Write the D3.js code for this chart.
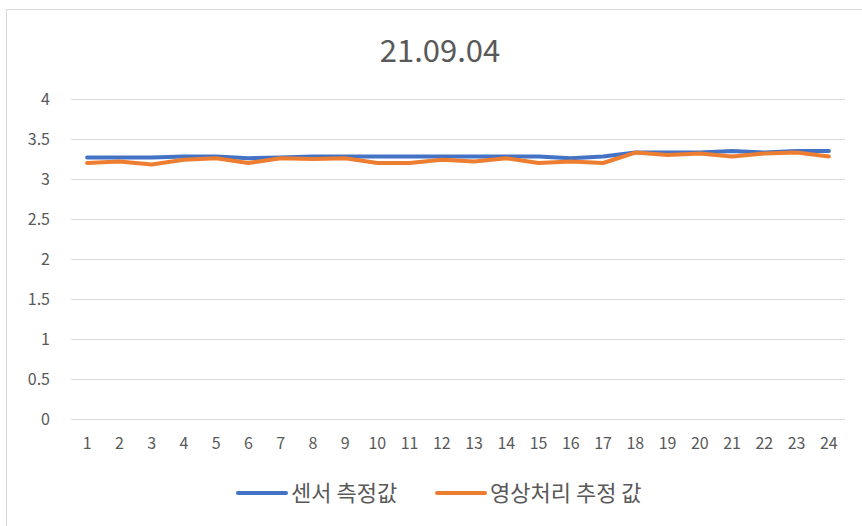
<!DOCTYPE html>
<html>
<head>
<meta charset="utf-8">
<script src="https://cdn.jsdelivr.net/npm/d3@7"></script>
<style>
  body { margin: 0; background: #fff; }
  svg { display: block; }
  text { font-family: "Noto Sans CJK KR", "Open Sans", sans-serif; fill: #595959; }
</style>
</head>
<body>
<svg id="chart" width="862" height="526"></svg>
<script>
// chart data
const categories = d3.range(1, 25).map(String);
const sensorValues = [3.27, 3.27, 3.27, 3.28, 3.28, 3.26, 3.27, 3.28, 3.28, 3.28, 3.28, 3.28, 3.28, 3.28, 3.28, 3.26, 3.28, 3.33, 3.33, 3.33, 3.35, 3.33, 3.35, 3.35];
const imageValues = [3.2, 3.22, 3.18, 3.24, 3.26, 3.2, 3.26, 3.25, 3.26, 3.2, 3.2, 3.24, 3.22, 3.26, 3.2, 3.22, 3.2, 3.33, 3.3, 3.32, 3.28, 3.32, 3.33, 3.28];
const yTicks = [0, 0.5, 1, 1.5, 2, 2.5, 3, 3.5, 4];
const seriesNames = ["센서 측정값", "영상처리 추정 값"];
const seriesColors = ["#4472C4", "#ED7D31"];
const title = "21.09.04";

const svg = d3.select('#chart');

// outer border like the excel chart area
svg.append('rect')
  .attr('x', 6.5).attr('y', 9.5)
  .attr('width', 860).attr('height', 520)
  .attr('fill', 'none')
  .attr('stroke', '#d9d9d9');

svg.append('text')
  .attr('x', 440).attr('y', 62)
  .attr('text-anchor', 'middle')
  .style('font-size', '31px')
  .text(title);

const x = d3.scaleBand().domain(categories).range([71, 845]);
const y = d3.scaleLinear().domain([0, 4]).range([419, 99]);

// gridlines
svg.append('g')
  .selectAll('line')
  .data(yTicks)
  .enter().append('line')
  .attr('x1', 71).attr('x2', 845)
  .attr('y1', d => Math.round(y(d)) + 0.5)
  .attr('y2', d => Math.round(y(d)) + 0.5)
  .attr('stroke', '#d9d9d9');

// y axis labels
svg.append('g')
  .selectAll('text')
  .data(yTicks)
  .enter().append('text')
  .attr('x', 50)
  .attr('y', d => y(d) + 6)
  .attr('text-anchor', 'end')
  .style('font-size', '16px')
  .text(d => d);

// x axis labels
svg.append('g')
  .selectAll('text')
  .data(categories)
  .enter().append('text')
  .attr('x', d => x(d) + x.bandwidth() / 2)
  .attr('y', 449)
  .attr('text-anchor', 'middle')
  .style('font-size', '16px')
  .text(d => d);

const line = d3.line()
  .x((d, i) => x(categories[i]) + x.bandwidth() / 2)
  .y(d => y(d));

[sensorValues, imageValues].forEach((vals, i) => {
  svg.append('path')
    .datum(vals)
    .attr('d', line)
    .attr('fill', 'none')
    .attr('stroke', seriesColors[i])
    .attr('stroke-width', 4)
    .attr('stroke-linejoin', 'round')
    .attr('stroke-linecap', 'round');
});

// legend
const legendX = [238, 437];
seriesNames.forEach((name, i) => {
  const g = svg.append('g').attr('transform', `translate(${legendX[i]},493)`);
  g.append('line')
    .attr('x1', 0).attr('x2', 48)
    .attr('stroke', seriesColors[i])
    .attr('stroke-width', 4)
    .attr('stroke-linecap', 'round');
  g.append('text')
    .attr('x', 53).attr('y', 8)
    .style('font-size', '22px')
    .text(name);
});
</script>
</body>
</html>
